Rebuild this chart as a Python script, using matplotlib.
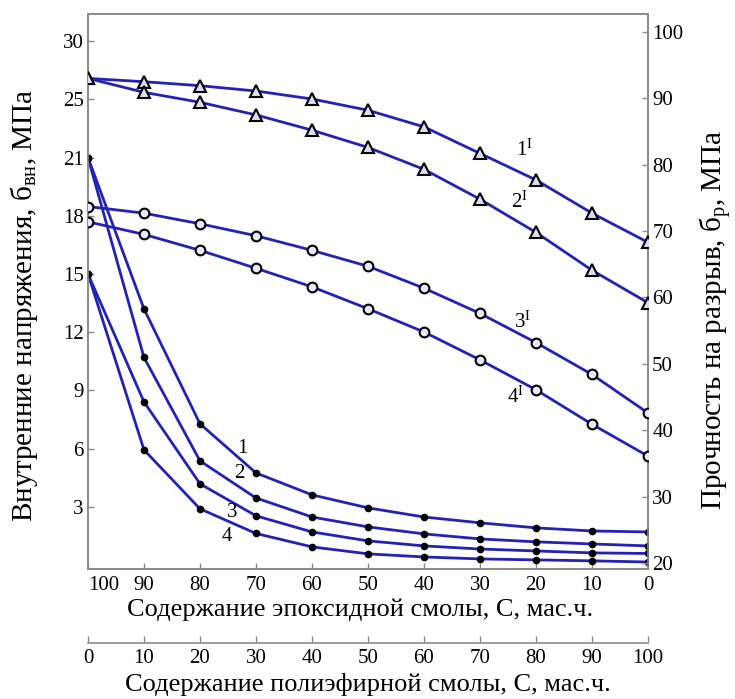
"""
Internal stress and tensile strength vs. epoxy / polyester resin content
"""

import matplotlib
matplotlib.use('Agg')
import matplotlib.pyplot as plt

plt.rcParams['font.family'] = ['Liberation Serif', 'DejaVu Serif']
plt.rcParams['mathtext.fontset'] = 'custom'
plt.rcParams['mathtext.rm'] = 'Liberation Serif'
plt.rcParams['mathtext.it'] = 'Liberation Serif:italic'

# Epoxy content (bottom axis, reversed), polyester = 100 - epoxy
epoxy = [100, 90, 80, 70, 60, 50, 40, 30, 20, 10, 0]
polyester_ticks = [0, 10, 20, 30, 40, 50, 60, 70, 80, 90, 100]

# Internal stresses, MPa (left axis)
stress_1 = [21.0, 13.2, 7.28, 4.75, 3.62, 2.95, 2.48, 2.18, 1.92, 1.76, 1.71]
stress_2 = [21.0, 10.7, 5.37, 3.46, 2.48, 1.97, 1.61, 1.35, 1.20, 1.09, 0.99]
stress_3 = [15.0, 8.41, 4.19, 2.54, 1.71, 1.25, 0.99, 0.83, 0.73, 0.63, 0.60]
stress_4 = [15.0, 5.94, 2.90, 1.63, 0.94, 0.58, 0.42, 0.32, 0.27, 0.22, 0.16]

# Tensile strength, MPa (right axis)
strength_1 = [93.0, 92.5, 91.9, 91.1, 89.9, 88.2, 85.7, 81.7, 77.7, 72.7, 68.3]
strength_2 = [93.0, 90.9, 89.4, 87.5, 85.2, 82.6, 79.3, 74.8, 69.8, 64.1, 59.2]
strength_3 = [73.7, 72.7, 71.1, 69.3, 67.1, 64.7, 61.4, 57.6, 53.2, 48.4, 42.6]
strength_4 = [71.4, 69.5, 67.1, 64.4, 61.6, 58.3, 54.8, 50.6, 46.1, 40.9, 36.1]

# Left axis is drawn with evenly spaced ticks but uneven labels
left_tick_pos = [3, 6, 9, 12, 15, 18, 21, 24, 27]
left_tick_labels = ['3', '6', '9', '12', '15', '18', '21', '25', '30']
right_ticks = [20, 30, 40, 50, 60, 70, 80, 90, 100]

LINE = '#2222b4'
SPINE = '#8a8a8a'


def style_axis(axis):
    for side in axis.spines.values():
        side.set_color(SPINE)
        side.set_linewidth(1.2)
    axis.tick_params(direction='in', length=4, width=1, color=SPINE,
                     labelsize=15, pad=3)


def main():
    fig = plt.figure(figsize=(7.35, 6.99), dpi=100)
    ax = fig.add_axes([88 / 735, 1 - 569 / 699, 560 / 735, 555 / 699])
    axr = ax.twinx()

    # stress curves (small black dots)
    for vals in (stress_1, stress_2, stress_3, stress_4):
        ax.plot(epoxy, vals, color=LINE, lw=2.0, zorder=2)
        ax.plot(epoxy, vals, ls='none', marker='o', ms=4.5,
                mfc='black', mec='black', zorder=3)

    # strength curves (triangles and circles)
    for vals in (strength_1, strength_2):
        axr.plot(epoxy, vals, color=LINE, lw=2.0, zorder=2)
        axr.plot(epoxy, vals, ls='none', marker='^', ms=8.5,
                 mfc='#dcdcf0', mec='black', mew=1.5, zorder=3)
    for vals in (strength_3, strength_4):
        axr.plot(epoxy, vals, color=LINE, lw=2.0, zorder=2)
        axr.plot(epoxy, vals, ls='none', marker='o', ms=7,
                 mfc='#e8e8f5', mec='black', mew=1.5, zorder=3)

    ax.set_xlim(100, 0)
    ax.set_ylim(-0.2, 28.4)
    axr.set_ylim(19.1, 102.7)

    ax.set_xticks(epoxy)
    ax.set_yticks(left_tick_pos)
    ax.set_yticklabels(left_tick_labels)
    axr.set_yticks(right_ticks)
    style_axis(ax)
    style_axis(axr)
    ax.tick_params(axis='x', pad=5)
    ax.get_xticklabels()[0].set_horizontalalignment('left')

    # curve numbers
    for num, (x, y) in zip('1234', [(72.5, 6.0), (72.9, 4.7), (74.3, 2.7), (75.2, 1.45)]):
        ax.text(x, y, num, fontsize=15, ha='center', va='center')
    for num, (x, y) in zip('1234', [(22.0, 82.2), (22.9, 74.4), (22.5, 56.3), (23.6, 45.0)]):
        axr.text(x, y, num + r'$^{\mathrm{I}}$', fontsize=15, ha='center', va='center')

    # second bottom axis: polyester content
    ax2 = fig.add_axes([88 / 735, 1 - 643 / 699, 560 / 735, 0.001])
    ax2.set_xlim(0, 100)
    ax2.set_xticks(polyester_ticks)
    ax2.set_yticks([])
    for side in ('left', 'right', 'top'):
        ax2.spines[side].set_visible(False)
    style_axis(ax2)
    ax2.patch.set_visible(False)
    ax2.tick_params(axis='x', which='major', top=True, bottom=False,
                    labeltop=False, labelbottom=True, direction='out',
                    length=4, pad=0)

    fig.text(360 / 735, 1 - 610 / 699, 'Содержание эпоксидной смолы, С, мас.ч.',
             fontsize=19, ha='center', va='center')
    fig.text(368 / 735, 1 - 685 / 699, 'Содержание полиэфирной смолы, С, мас.ч.',
             fontsize=19, ha='center', va='center')
    fig.text(24 / 735, 1 - 305 / 699, r'Внутренние напряжения, б$_{\mathrm{вн}}$, МПа',
             fontsize=21, rotation=90, ha='center', va='center')
    fig.text(716 / 735, 1 - 320 / 699, r'Прочность на разрыв, б$_{\mathrm{р}}$, МПа',
             fontsize=21, rotation=90, ha='center', va='center')

    fig.savefig('out.png', dpi=100)
    plt.close(fig)
    print('[OK] saved out.png')


if __name__ == '__main__':
    main()
